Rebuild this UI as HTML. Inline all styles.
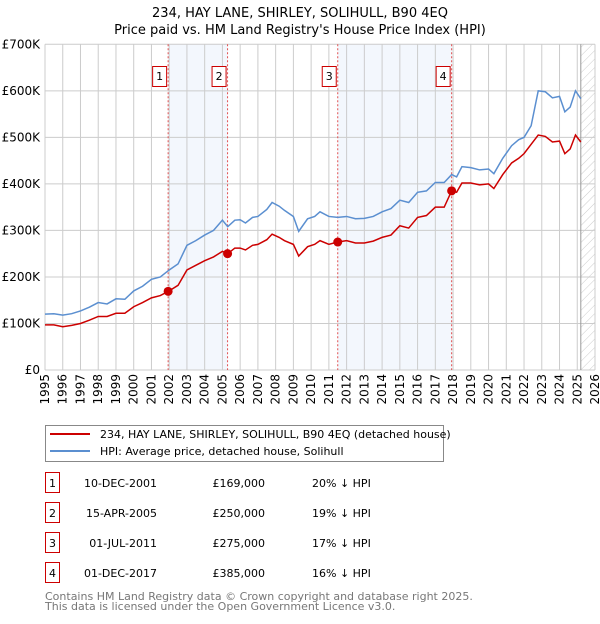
<!DOCTYPE html>
<html><head><meta charset="utf-8"><style>
body{margin:0;background:#fff;font-family:"DejaVu Sans","Liberation Sans",sans-serif;}
svg text{font-family:"DejaVu Sans","Liberation Sans",sans-serif;}
</style></head><body>
<svg id="c" width="600" height="620" xmlns="http://www.w3.org/2000/svg">
<defs><pattern id="hatch" width="6" height="6" patternUnits="userSpaceOnUse" patternTransform="rotate(45)"><line x1="0" y1="0" x2="0" y2="6" stroke="#ccc" stroke-width="1"/></pattern></defs>
<text x="300" y="17" text-anchor="middle" font-size="13">234, HAY LANE, SHIRLEY, SOLIHULL, B90 4EQ</text>
<text x="300" y="34" text-anchor="middle" font-size="13">Price paid vs. HM Land Registry's House Price Index (HPI)</text>
<g id="plot"></g>
<g>
<rect x="45.5" y="425.5" width="398" height="36" fill="#fff" stroke="#888"/>
<line x1="50" y1="434" x2="90" y2="434" stroke="#cc0000" stroke-width="2"/>
<text x="100" y="438" font-size="11">234, HAY LANE, SHIRLEY, SOLIHULL, B90 4EQ (detached house)</text>
<line x1="50" y1="451" x2="90" y2="451" stroke="#5b8fd0" stroke-width="2"/>
<text x="100" y="455" font-size="11">HPI: Average price, detached house, Solihull</text>
</g>
<g id="table"></g>
<text x="45" y="600" font-size="11" fill="#777">Contains HM Land Registry data © Crown copyright and database right 2025.</text>
<text x="45" y="610" font-size="11" fill="#777">This data is licensed under the Open Government Licence v3.0.</text>
</svg>
<script>
const hpiYears=[1995,1995.5,1996,1996.5,1997,1997.5,1998,1998.5,1999,1999.5,2000,2000.5,2001,2001.5,2002,2002.5,2003,2003.5,2004,2004.5,2005,2005.3,2005.7,2006,2006.3,2006.7,2007,2007.5,2007.8,2008.2,2008.5,2009,2009.3,2009.8,2010.2,2010.5,2011,2011.5,2012,2012.5,2013,2013.5,2014,2014.5,2015,2015.5,2016,2016.5,2017,2017.5,2017.92,2018.2,2018.5,2019,2019.5,2020,2020.3,2020.8,2021.3,2021.7,2022,2022.4,2022.8,2023.2,2023.6,2024,2024.3,2024.6,2024.9,2025.2];
const hpiValues=[120,121,118,121,127,135,145,142,153,152,170,180,195,200,215,228,268,278,290,300,322,308,322,323,316,328,330,345,360,352,343,330,298,325,330,340,330,328,330,325,326,330,340,347,365,360,382,385,403,403,420,415,437,435,430,432,422,455,482,495,500,525,600,598,585,588,555,565,600,583];
const priceValues=[97,97,93,96,100,107,115,115,122,122,136,145,155,160,170,182,215,225,235,243,255,250,262,262,258,268,270,280,292,285,278,270,245,265,270,278,270,275,278,273,273,277,285,290,310,305,328,332,350,350,385,382,402,402,398,400,390,420,445,455,465,485,505,502,490,492,465,475,505,490];
const sales=[{n:"1",t:2001.94,v:169,date:"10-DEC-2001",price:"£169,000",diff:"20% ↓ HPI"},{n:"2",t:2005.29,v:250,date:"15-APR-2005",price:"£250,000",diff:"19% ↓ HPI"},{n:"3",t:2011.5,v:275,date:"01-JUL-2011",price:"£275,000",diff:"17% ↓ HPI"},{n:"4",t:2017.92,v:385,date:"01-DEC-2017",price:"£385,000",diff:"16% ↓ HPI"}];
const yTicks=[0,100,200,300,400,500,600,700];
const yTickLabels=["£0","£100K","£200K","£300K","£400K","£500K","£600K","£700K"];
const NS="http://www.w3.org/2000/svg";
const X0=45,X1=595,Y0=370,Y1=44.3;
const xs=t=>X0+(t-1995)/(2026-1995)*(X1-X0);
const ys=v=>Y0-v/700*(Y0-Y1);
const plot=document.getElementById('plot');
function mk(tag,attrs,parent){const e=document.createElementNS(NS,tag);for(const k in attrs)e.setAttribute(k,attrs[k]);(parent||plot).appendChild(e);return e;}
for(const [a,b] of [[0,1],[2,3]]){const r=mk('rect',{x:xs(sales[a].t),y:Y1,width:xs(sales[b].t)-xs(sales[a].t),height:Y0-Y1,fill:'#eef3fc',opacity:0.7});

}
const h=mk('rect',{x:xs(2025.2),y:Y1,width:X1-xs(2025.2),height:Y0-Y1,fill:'url(#hatch)'});


for(let y=1995;y<=2026;y++){const g=mk('line',{x1:xs(y),x2:xs(y),y1:Y1,y2:Y0,stroke:'#ccc'});


const tx=mk('text',{x:0,y:0,'font-size':12,'text-anchor':'end',transform:`translate(${xs(y)+4},${Y0+4}) rotate(-90)`});tx.textContent=y;

}
yTicks.forEach((v,i)=>{const g=mk('line',{x1:X0,x2:X1,y1:ys(v),y2:ys(v),stroke:'#ccc'});


const tx=mk('text',{x:X0-5,y:ys(v)+4,'font-size':12,'text-anchor':'end'});tx.textContent=yTickLabels[i];

});
const nl=mk('line',{x1:xs(2025.2),x2:xs(2025.2),y1:Y1,y2:Y0,stroke:'#999'});


sales.forEach(s=>{const l=mk('line',{x1:xs(s.t),x2:xs(s.t),y1:Y1,y2:Y0,stroke:'#e05050','stroke-dasharray':'2,2'});

});
const hp=mk('polyline',{points:hpiYears.map((t,i)=>xs(t)+','+ys(hpiValues[i])).join(' '),fill:'none',stroke:'#5b8fd0','stroke-width':1.5});


const pp=mk('polyline',{points:hpiYears.map((t,i)=>xs(t)+','+ys(priceValues[i])).join(' '),fill:'none',stroke:'#cc0000','stroke-width':1.5});


sales.forEach(s=>{const c=mk('circle',{cx:xs(s.t),cy:ys(s.v),r:4.5,fill:'#cc0000'});


const bx=xs(s.t)-16;
const r=mk('rect',{x:bx+0.5,y:66.5,width:14,height:20,fill:'#fff',stroke:'#cc0000'});


const t=mk('text',{x:bx+7.5,y:80,'font-size':11,'text-anchor':'middle'});t.textContent=s.n;

});
const tb=document.getElementById('table');
sales.forEach((s,i)=>{const cy=483+30*i;
const r=mk('rect',{x:45.5,y:cy-10.5,width:14,height:20,fill:'#fff',stroke:'#cc0000'},tb);


const cols=[[52.5,s.n,'middle'],[157,s.date,'end'],[265,s.price,'end'],[312,s.diff,'start']];
cols.forEach(([x,txt,a])=>{const t=mk('text',{x:x,y:cy+4,'font-size':11,'text-anchor':a},tb);t.textContent=txt;

});});
</script>
</body></html>
